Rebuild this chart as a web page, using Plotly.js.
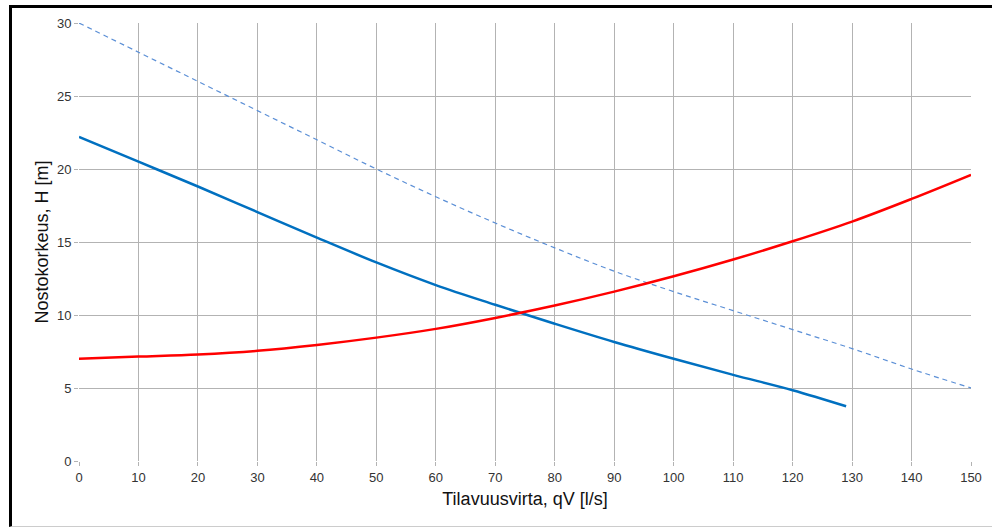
<!DOCTYPE html>
<html>
<head>
<meta charset="utf-8">
<script src="https://cdn.plot.ly/plotly-3.0.1.min.js"></script>
<style>
html,body{margin:0;padding:0;background:#fff;}
#chart{width:992px;height:527px;position:absolute;left:0;top:0;}
#frame{position:absolute;left:9px;top:5px;width:990px;height:518px;border-left:3px solid #000;border-top:3px solid #000;border-bottom:1px solid #ccc;pointer-events:none;}
</style>
</head>
<body>
<div id="chart"></div>
<div id="frame"></div>
<script>
const xPump = [0, 10, 20, 30, 40, 50, 60, 70, 80, 90, 100, 110, 120, 129];
const hPump = [22.2, 20.5, 18.8, 17.05, 15.3, 13.6, 12.05, 10.7, 9.4, 8.15, 7.0, 5.9, 4.85, 3.75];

const xSystem = [0, 10, 20, 30, 40, 50, 60, 70, 80, 90, 100, 110, 120, 130, 140, 150];
const hSystem = [7.0, 7.15, 7.3, 7.55, 7.95, 8.45, 9.05, 9.8, 10.65, 11.6, 12.65, 13.8, 15.05, 16.4, 17.95, 19.6];

const xDashed = [0, 10, 20, 30, 40, 50, 60, 70, 80, 90, 100, 110, 120, 130, 140, 150];
const hDashed = [30, 28, 26, 24, 22, 20, 18.1, 16.3, 14.6, 13.0, 11.6, 10.3, 9.0, 7.7, 6.3, 5.0];

const xTicks = [0,10,20,30,40,50,60,70,80,90,100,110,120,130,140,150];
const yTicks = [0,5,10,15,20,25,30];

const traces = [
  {x: xDashed, y: hDashed, mode: 'lines', line: {color: '#5b8fd6', width: 1.2, dash: '5px,4px', shape: 'spline'}, hoverinfo: 'skip'},
  {x: xPump, y: hPump, mode: 'lines', line: {color: '#0070c0', width: 2.5, shape: 'spline'}, hoverinfo: 'skip'},
  {x: xSystem, y: hSystem, mode: 'lines', line: {color: '#ff0000', width: 2.5, shape: 'spline'}, hoverinfo: 'skip'}
];

const layout = {
  width: 992, height: 527,
  margin: {l: 79, r: 21, t: 23, b: 66},
  paper_bgcolor: '#fff', plot_bgcolor: '#fff',
  showlegend: false,
  font: {family: 'Liberation Sans, Arial, sans-serif', color: '#222'},
  xaxis: {
    range: [0, 150], tickvals: xTicks, ticktext: xTicks.map(String),
    showgrid: true, gridcolor: '#b3b3b3', gridwidth: 1,
    zeroline: false, showline: false,
    ticks: 'outside', ticklen: 4, tickcolor: '#b3b3b3',
    tickfont: {size: 13, color: '#333'},
    title: {text: 'Tilavuusvirta, qV [l/s]', font: {size: 18, color: '#111'}, standoff: 8}
  },
  yaxis: {
    range: [0, 30], tickvals: yTicks, ticktext: yTicks.map(String),
    showgrid: true, gridcolor: '#b3b3b3', gridwidth: 1,
    zeroline: false, showline: false,
    ticks: 'outside', ticklen: 4, tickcolor: '#b3b3b3',
    tickfont: {size: 13, color: '#333'},
    title: {text: 'Nostokorkeus, H [m]', font: {size: 18, color: '#111'}, standoff: 3}
  }
};

Plotly.newPlot('chart', traces, layout, {staticPlot: true});
</script>
</body>
</html>
